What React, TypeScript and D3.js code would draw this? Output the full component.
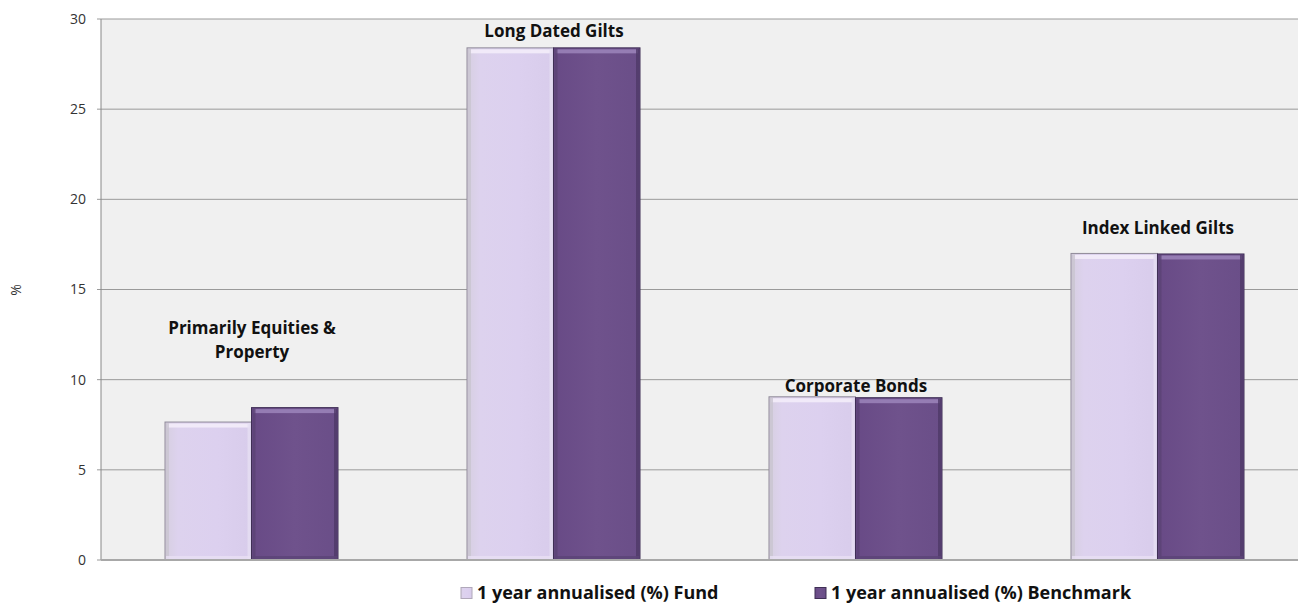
import React from "react";
import * as d3 from "d3";

const categories = ["Primarily Equities & Property", "Long Dated Gilts", "Corporate Bonds", "Index Linked Gilts"];
const categoryLines = [["Primarily Equities &", "Property"], ["Long Dated Gilts"], ["Corporate Bonds"], ["Index Linked Gilts"]];
const fundValues = [7.65, 28.4, 9.05, 17.0];
const benchmarkValues = [8.45, 28.4, 9.0, 16.97];
const seriesNames = ["1 year annualised (%) Fund", "1 year annualised (%) Benchmark"];
const yTicks = [0, 5, 10, 15, 20, 25, 30];

// layout constants (pixels above the taller bar for each category label's last line)
const labelGap = [56, 17, 11, 25];

const W = 1298;
const H = 605;
const left = 101;
const right = 1309;
const top = 19;
const bottom = 560;
const FONT = "'Open Sans', 'Noto Sans', sans-serif";

export default function App() {
  const x0 = d3.scaleBand<string>().domain(categories).range([left, right]).padding(0);
  const step = x0.bandwidth();
  const x1 = d3.scaleBand<string>().domain(["fund", "bench"]).range([64, step - 65]).padding(0);
  const y = d3.scaleLinear().domain([0, 30]).range([bottom, top]);
  const bw = x1.bandwidth();

  const renderBar = (kind: string, v: number, i: number) => {
    const bx = (x0(categories[i]) as number) + (x1(kind) as number);
    const by = y(v);
    const h = bottom - by;
    const isFund = kind === "fund";
    return (
      <g key={kind + i}>
        <rect x={bx} y={by} width={bw} height={h} fill={isFund ? "url(#fundGrad)" : "url(#benchGrad)"} stroke={isFund ? "#8f8a98" : "#3f2f55"} strokeWidth={1} />
        <rect x={bx + 2} y={by + 1.5} width={bw - 4} height={4} fill={isFund ? "#f4effa" : "#9c85bb"} opacity={0.85} />
        <rect x={bx + 1} y={by + 1} width={3} height={h - 2} fill={isFund ? "#c9c4d0" : "#5a4274"} opacity={0.8} />
        <rect x={bx + bw - 4} y={by + 1} width={3} height={h - 2} fill={isFund ? "#e6def2" : "#4f3a68"} opacity={0.8} />
        <rect x={bx + 1} y={bottom - 4} width={bw - 2} height={3} fill={isFund ? "#e8e0f4" : "#5b4377"} opacity={0.8} />
      </g>
    );
  };

  return (
    <div style={{ position: "fixed", left: 0, top: 0, width: W, height: H, overflow: "hidden", background: "#fff" }}>
      <svg width={W} height={H} style={{ display: "block" }}>
        <defs>
          <linearGradient id="fundGrad" x1="0" y1="0" x2="1" y2="0">
            <stop offset="0" stopColor="#d6cfe0" />
            <stop offset="0.15" stopColor="#ddd2ee" />
            <stop offset="0.6" stopColor="#dcd0ef" />
            <stop offset="1" stopColor="#d8cceb" />
          </linearGradient>
          <linearGradient id="benchGrad" x1="0" y1="0" x2="1" y2="0">
            <stop offset="0" stopColor="#684a86" />
            <stop offset="0.5" stopColor="#6f528c" />
            <stop offset="1" stopColor="#6a4e88" />
          </linearGradient>
        </defs>
        <rect x={left} y={top} width={right - left} height={bottom - top} fill="#f0f0f0" />
        {yTicks.map((t) => (
          <g key={t}>
            {t > 0 && <line x1={left - 4} x2={right} y1={y(t)} y2={y(t)} stroke="#9a9a9a" strokeWidth={1} />}
            <text x={86} y={y(t)} dy="0.35em" textAnchor="end" fontFamily={FONT} fontSize={14} fill="#333">{t}</text>
          </g>
        ))}
        <line x1={left} x2={left} y1={top} y2={bottom} stroke="#888" strokeWidth={1} />
        <line x1={left - 4} x2={left} y1={bottom} y2={bottom} stroke="#999" />
        <text transform={`translate(16,290) rotate(-90)`} textAnchor="middle" dy="0.35em" fontFamily={FONT} fontSize={14} fill="#333">%</text>
        {categories.map((c, i) => (
          <g key={c}>
            {renderBar("fund", fundValues[i], i)}
            {renderBar("bench", benchmarkValues[i], i)}
          </g>
        ))}
        <line x1={left} x2={right} y1={bottom} y2={bottom} stroke="#a8a8a8" strokeWidth={2} />
        {categories.map((c, i) => {
          const cx = (x0(c) as number) + step / 2;
          const topV = Math.max(fundValues[i], benchmarkValues[i]);
          const lines = categoryLines[i];
          const lastY = y(topV) - labelGap[i];
          return (
            <text key={"l" + c} textAnchor="middle" fontFamily={FONT} fontWeight="bold" fontSize={17} fill="#111">
              {lines.map((ln, k) => (
                <tspan key={k} x={cx} y={lastY - (lines.length - 1 - k) * 24} dy="0.35em">{ln}</tspan>
              ))}
            </text>
          );
        })}
        {seriesNames.map((s, i) => {
          const lx = i === 0 ? 461 : 815;
          return (
            <g key={s}>
              <rect x={lx} y={587.5} width={11} height={11} fill={i === 0 ? "url(#fundGrad)" : "url(#benchGrad)"} stroke={i === 0 ? "#b0a8ba" : "#3f2f55"} />
              <text x={lx + 16} y={593} dy="0.36em" fontFamily={FONT} fontWeight="bold" fontSize={18} fill="#111">{s}</text>
            </g>
          );
        })}
      </svg>
    </div>
  );
}
